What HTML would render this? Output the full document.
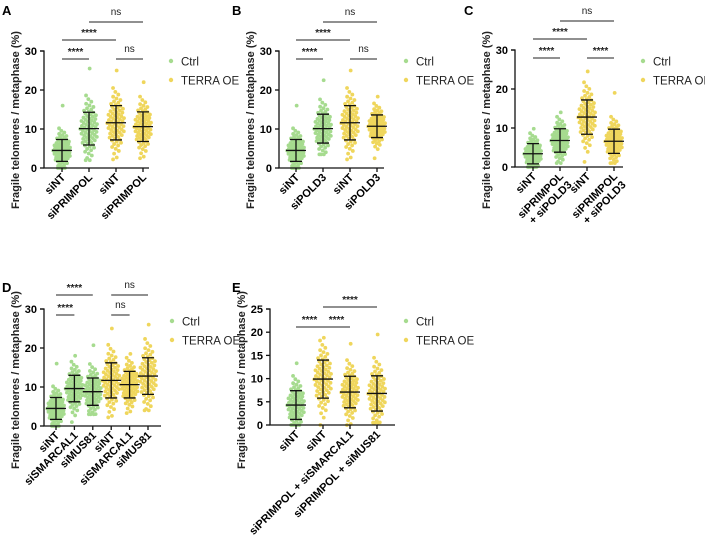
<!DOCTYPE html>
<html><head><meta charset="utf-8"><style>
body{margin:0;background:#fff;}
svg{display:block;font-family:"Liberation Sans",Arial,sans-serif;}
</style></head><body>
<svg id="fig" width="705" height="542" viewBox="0 0 705 542"></svg>
<script>
// ---- data ----
const catsA=["siNT","siPRIMPOL","siNT","siPRIMPOL"];
const meanA=[4.5,10.1,11.6,10.6], sdA=[2.8,4.2,4.4,3.8], minA=[0,2,2.2,2.5], maxA=[16,25.5,25,22];
const catsB=["siNT","siPOLD3","siNT","siPOLD3"];
const meanB=[4.5,10.1,11.6,10.7], sdB=[2.8,3.7,4.4,2.9], minB=[0,3.5,2.2,2.5], maxB=[16,22.5,25,18.3];
const catsC=["siNT","siPRIMPOL|+ siPOLD3","siNT","siPRIMPOL|+ siPOLD3"];
const meanC=[3.4,6.8,12.8,6.6], sdC=[2.6,3.0,4.4,3.1], minC=[0,1,1.3,1], maxC=[9.8,14,24.5,19];
const catsD=["siNT","siSMARCAL1","siMUS81","siNT","siSMARCAL1","siMUS81"];
const meanD=[4.5,9.6,8.8,11.7,10.6,12.8], sdD=[2.8,3.4,3.5,4.5,3.4,4.7], minD=[0,1,3,2.2,3.3,4], maxD=[16,18,20.7,25,18.5,26];
const catsE=["siNT","siNT","siPRIMPOL + siSMARCAL1","siPRIMPOL + siMUS81"];
const meanE=[4.3,9.9,7.1,6.8], sdE=[3.1,4.1,3.4,3.8], minE=[0,0,0,0.5], maxE=[13.3,18.8,17.5,19.5];
const grpA=[0,0,1,1], grpB=[0,0,1,1], grpC=[0,0,1,1], grpD=[0,0,0,1,1,1], grpE=[0,1,1,1];
const yTicksABCD=[0,10,20,30], yTicksE=[0,5,10,15,20,25];
// significance: [from, to, label, level]
const sigA=[[0,1,"****",0],[2,3,"ns",0],[0,2,"****",1],[1,3,"ns",2]];
const sigB=[[0,1,"****",0],[2,3,"ns",0],[0,2,"****",1],[1,3,"ns",2]];
const sigC=[[0,1,"****",0],[2,3,"****",0],[0,2,"****",1],[1,3,"ns",2]];
const sigD=[[0,1,"****",0],[3,4,"ns",0],[0,2,"****",1],[3,5,"ns",1]];
const sigE=[[0,1,"****",0],[1,2,"****",0],[1,3,"****",1]];

const NS="http://www.w3.org/2000/svg";
const svg=document.getElementById('fig');
const COL=["#a6db8f","#efd65c"];
function el(t,a,p){const e=document.createElementNS(NS,t);for(const k in a)e.setAttribute(k,a[k]);(p||svg).appendChild(e);return e;}
function invn(p){const a=[-39.6968,220.946,-275.929,138.358,-30.6648,2.50663],b=[-54.4761,161.586,-155.699,66.8013,-13.2806],c=[-0.00778489,-0.322396,-2.40076,-2.54973,4.37466,2.93816],d=[0.00778470,0.322467,2.44513,3.75440];
 let q,r;if(p<0.02425){q=Math.sqrt(-2*Math.log(p));return(((((c[0]*q+c[1])*q+c[2])*q+c[3])*q+c[4])*q+c[5])/((((d[0]*q+d[1])*q+d[2])*q+d[3])*q+1);}
 if(p>1-0.02425){q=Math.sqrt(-2*Math.log(1-p));return-(((((c[0]*q+c[1])*q+c[2])*q+c[3])*q+c[4])*q+c[5])/((((d[0]*q+d[1])*q+d[2])*q+d[3])*q+1);}
 q=p-0.5;r=q*q;return(((((a[0]*r+a[1])*r+a[2])*r+a[3])*r+a[4])*r+a[5])*q/(((((b[0]*r+b[1])*r+b[2])*r+b[3])*r+b[4])*r+1);}

function panel(P){
 const g=el('g',{});
 
 
 const ymax=P.ticks[P.ticks.length-1];
 const ys=v=>P.y0+(P.yTop-P.y0)*v/ymax;
 const xs=i=>P.x1+i*P.dx;
 const lab=el('text',{x:P.lx,y:P.ly,'font-size':13,'font-weight':'bold'},g);lab.textContent=P.id;
 
 
 P.cats.forEach((c,i)=>{
  const n=70;
  for(let k=0;k<n;k++){
   const p=(k+0.5)/n;let v=P.mean[i]+P.sd[i]*invn(p);
   v=Math.max(P.min[i],Math.min(P.max[i],v));
   if(k==0)v=P.min[i];if(k==n-1)v=P.max[i];
   const z=(v-P.mean[i])/P.sd[i];const dens=Math.exp(-z*z/2);
   const j=((k*0.618034)%1)*2-1;
   const pt=el('circle',{cx:xs(i)+j*9*(0.25+0.75*dens),cy:ys(v),r:1.9,fill:COL[P.grp[i]]},g);
   
   
  }
 });
 P.cats.forEach((c,i)=>{
  const x=xs(i),m=ys(P.mean[i]),lo=ys(Math.max(0,P.mean[i]-P.sd[i])),hi=ys(P.mean[i]+P.sd[i]);
  const eb=el('path',{d:`M${x-10},${m}H${x+10}M${x},${lo}V${hi}M${x-6},${lo}H${x+6}M${x-6},${hi}H${x+6}`,stroke:'#111','stroke-width':1.3,fill:'none'},g);
  
  
 });
 const ax=el('path',{d:`M${P.ax-4},${P.yTop}H${P.ax}V${P.y0}H${P.axEnd}`,stroke:'#111','stroke-width':1.3,fill:'none'},g);
 
 
 P.ticks.forEach(t=>{
  el('line',{x1:P.ax-4,x2:P.ax,y1:ys(t),y2:ys(t),stroke:'#111','stroke-width':1.3},g);
  const tt=el('text',{x:P.ax-7,y:ys(t)+4,'font-size':11,'font-weight':'bold','text-anchor':'end'},g);tt.textContent=t;
  
  
 });
 const yt=el('text',{transform:`translate(${P.ax-25},${P.titleY}) rotate(-90)`,'font-size':11,'font-weight':'bold','text-anchor':'middle',fill:'#222'},g);
 yt.textContent='Fragile telomeres / metaphase (%)';
 
 
 P.cats.forEach((c,i)=>{
  const x=xs(i);
  el('line',{x1:x,x2:x,y1:P.y0,y2:P.y0+4,stroke:'#111','stroke-width':1.3},g);
  const parts=c.split('|');
  parts.forEach((s,pi)=>{
   const off=pi*12;
   const t=el('text',{transform:`translate(${x+4+off*0.707},${P.y0+10+off*0.707}) rotate(-45)`,'font-size':11,'font-weight':'bold','text-anchor':'end'},g);
   t.textContent=s;
   
   
  });
 });
 P.sig.forEach(s=>{
  const y=P.sigY[s[3]];
  const ln=el('line',{x1:xs(s[0]),x2:xs(s[1]),y1:y,y2:y,stroke:'#222','stroke-width':1},g);
  
  
  const t=el('text',{x:(xs(s[0])+xs(s[1]))/2,y:s[2]=='ns'?y-7:y-4,'font-size':10,'font-weight':s[2]=='ns'?'normal':'bold','text-anchor':'middle',fill:'#222'},g);
  t.textContent=s[2];
  
  
 });
 ["Ctrl","TERRA OE"].forEach((s,i)=>{
  const d=el('circle',{cx:P.legX,cy:P.legY+i*19,r:2.2,fill:COL[i]},g);
  
  
  const t=el('text',{x:P.legX+10,y:P.legY+i*19+4.5,'font-size':11.5,fill:'#222'},g);t.textContent=s;
  
  
 });
}
panel({id:'A',lx:2,ly:15,titleY:120,cats:catsA,mean:meanA,sd:sdA,min:minA,max:maxA,grp:grpA,sig:sigA,ticks:yTicksABCD,ax:44,axEnd:149,x1:62,dx:27,y0:168,yTop:51,sigY:[59,40,22],legX:171,legY:61});
panel({id:'B',lx:232,ly:15,titleY:120,cats:catsB,mean:meanB,sd:sdB,min:minB,max:maxB,grp:grpB,sig:sigB,ticks:yTicksABCD,ax:279,axEnd:384,x1:296,dx:27,y0:168,yTop:51,sigY:[59,40,22],legX:406,legY:61});
panel({id:'C',lx:464,ly:15,titleY:120,cats:catsC,mean:meanC,sd:sdC,min:minC,max:maxC,grp:grpC,sig:sigC,ticks:yTicksABCD,ax:515,axEnd:623,x1:533,dx:27,y0:167,yTop:50,sigY:[58,39,21],legX:643,legY:61});
panel({id:'D',lx:2,ly:292,titleY:380,cats:catsD,mean:meanD,sd:sdD,min:minD,max:maxD,grp:grpD,sig:sigD,ticks:yTicksABCD,ax:44,axEnd:161,x1:56,dx:18.4,y0:426,yTop:309,sigY:[315,295],legX:172,legY:321});
panel({id:'E',lx:232,ly:292,titleY:380,cats:catsE,mean:meanE,sd:sdE,min:minE,max:maxE,grp:grpE,sig:sigE,ticks:yTicksE,ax:270,axEnd:395,x1:296,dx:27,y0:425,yTop:309,sigY:[327,307],legX:406,legY:321});
</script>
</body></html>
